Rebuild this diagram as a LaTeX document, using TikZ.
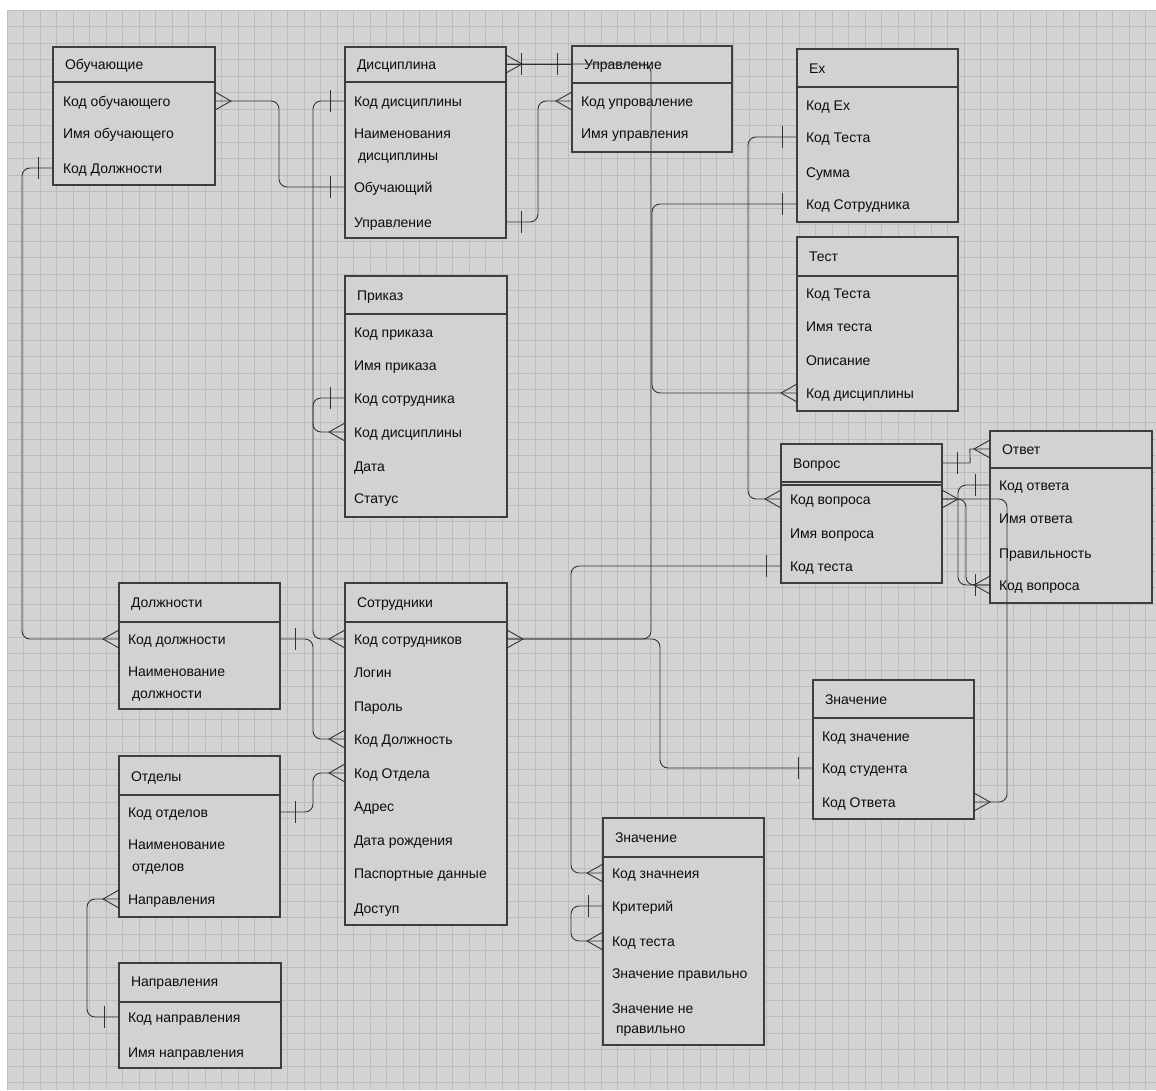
\documentclass[tikz,border=0pt]{standalone}
\usepackage{fontspec}
\setmainfont{Liberation Sans}
\usetikzlibrary{calc}
\definecolor{bgc}{RGB}{211,211,211}
\definecolor{gridc}{RGB}{188,188,188}
\definecolor{boxfill}{RGB}{210,210,210}
\definecolor{edgec}{RGB}{62,62,62}
\definecolor{linec}{RGB}{50,50,50}
\definecolor{txtc}{RGB}{12,12,12}
\tikzset{
  gridline/.style={draw=gridc, line width=0.7pt},
  tblbox/.style={draw=edgec, fill=boxfill, line width=1.1pt, rectangle, inner sep=0pt, outer sep=0pt},
  sepline/.style={draw=edgec, line width=1.1pt},
  rowtxt/.style={anchor=west, inner sep=0pt, outer sep=0pt, text=txtc, font=\fontsize{14}{16}\selectfont, text height=13pt, text depth=3pt},
  conn/.style={draw=linec, line width=0.9pt, rounded corners=8pt},
  tick/.style={draw=linec, line width=0.9pt},
  crowR/.pic={\draw[tick] (0,-9) -- (16,0) -- (0,9);},
  crowL/.pic={\draw[tick] (0,-9) -- (-16,0) -- (0,9);},
  barR/.pic={\draw[tick] (15,-11) -- (15,11);},
  barL/.pic={\draw[tick] (-15,-11) -- (-15,11);},
}
% name, x1, y1, x2, y2, separator y
\newcommand\ertable[6]{%
  \node[tblbox, minimum width={#4-#2}, minimum height={#5-#3}] (#1) at ({(#2+#4)/2},{(#3+#5)/2}) {};
  \draw[sepline] (#1.west |- 0,#6) -- (#1.east |- 0,#6);
}
\newcommand\erow[4]{\node[rowtxt] (#1) at (#2,#3) {#4};}
\begin{document}
\begin{tikzpicture}[x=1pt,y=-1pt]
\useasboundingbox (0,0) rectangle (1156,1090);
\fill[white] (0,0) rectangle (1156,1090);
\fill[bgc] (7,10) rectangle (1156,1090);
\foreach \i in {0,...,69} {\draw[gridline] ({7+\i*16.5},10) -- ({7+\i*16.5},1090);}
\foreach \j in {0,...,65} {\draw[gridline] (7,{10+\j*16.5}) -- (1156,{10+\j*16.5});}

% ---------- tables ----------
\ertable{obu}{53}{47}{215}{185}{82}
\erow{obu-t}{65}{64}{Обучающие}
\erow{obu-1}{63}{101}{Код обучающего}
\erow{obu-2}{63}{133}{Имя обучающего}
\erow{obu-3}{63}{168}{Код Должности}

\ertable{disc}{345}{47}{506}{238}{82}
\erow{disc-t}{357}{64}{Дисциплина}
\erow{disc-1}{354}{101}{Код дисциплины}
\erow{disc-2}{354}{133}{Наименования}
\erow{disc-2b}{358}{155}{дисциплины}
\erow{disc-3}{354}{187}{Обучающий}
\erow{disc-4}{354}{222}{Управление}

\ertable{upr}{572}{46}{732}{152}{83}
\erow{upr-t}{584}{64}{Управление}
\erow{upr-1}{581}{101}{Код упроваление}
\erow{upr-2}{581}{133}{Имя управления}

\ertable{ex}{797}{49}{958}{222}{87}
\erow{ex-t}{809}{68}{Ex}
\erow{ex-1}{806}{105}{Код Ex}
\erow{ex-2}{806}{137}{Код Теста}
\erow{ex-3}{806}{172}{Сумма}
\erow{ex-4}{806}{204}{Код Сотрудника}

\ertable{test}{797}{237}{958}{411}{276}
\erow{test-t}{809}{256}{Тест}
\erow{test-1}{806}{293}{Код Теста}
\erow{test-2}{806}{326}{Имя теста}
\erow{test-3}{806}{360}{Описание}
\erow{test-4}{806}{393}{Код дисциплины}

\ertable{prik}{345}{276}{507}{517}{314}
\erow{prik-t}{357}{295}{Приказ}
\erow{prik-1}{354}{332}{Код приказа}
\erow{prik-2}{354}{365}{Имя приказа}
\erow{prik-3}{354}{398}{Код сотрудника}
\erow{prik-4}{354}{432}{Код дисциплины}
\erow{prik-5}{354}{466}{Дата}
\erow{prik-6}{354}{498}{Статус}

\ertable{vopr}{781}{444}{942}{583}{482}
\draw[sepline] (vopr.west |- 0,485) -- (vopr.east |- 0,485);
\erow{vopr-t}{793}{463}{Вопрос}
\erow{vopr-1}{790}{499}{Код вопроса}
\erow{vopr-2}{790}{533}{Имя вопроса}
\erow{vopr-3}{790}{566}{Код теста}

\ertable{otvet}{990}{431}{1152}{603}{468}
\erow{otvet-t}{1002}{449}{Ответ}
\erow{otvet-1}{999}{485}{Код ответа}
\erow{otvet-2}{999}{518}{Имя ответа}
\erow{otvet-3}{999}{553}{Правильность}
\erow{otvet-4}{999}{585}{Код вопроса}

\ertable{dolzh}{119}{583}{280}{709}{622}
\erow{dolzh-t}{131}{602}{Должности}
\erow{dolzh-1}{128}{639}{Код должности}
\erow{dolzh-2}{128}{671}{Наименование}
\erow{dolzh-2b}{132}{693}{должности}

\ertable{sotr}{345}{583}{507}{925}{622}
\erow{sotr-t}{357}{602}{Сотрудники}
\erow{sotr-1}{354}{639}{Код сотрудников}
\erow{sotr-2}{354}{672}{Логин}
\erow{sotr-3}{354}{706}{Пароль}
\erow{sotr-4}{354}{739}{Код Должность}
\erow{sotr-5}{354}{773}{Код Отдела}
\erow{sotr-6}{354}{806}{Адрес}
\erow{sotr-7}{354}{840}{Дата рождения}
\erow{sotr-8}{354}{873}{Паспортные данные}
\erow{sotr-9}{354}{908}{Доступ}

\ertable{otdel}{119}{756}{280}{917}{795}
\erow{otdel-t}{131}{776}{Отделы}
\erow{otdel-1}{128}{812}{Код отделов}
\erow{otdel-2}{128}{844}{Наименование}
\erow{otdel-2b}{132}{866}{отделов}
\erow{otdel-3}{128}{899}{Направления}

\ertable{napr}{119}{963}{281}{1068}{1002}
\erow{napr-t}{131}{981}{Направления}
\erow{napr-1}{128}{1017}{Код направления}
\erow{napr-2}{128}{1052}{Имя направления}

\ertable{znB}{603}{818}{764}{1045}{857}
\erow{znB-t}{615}{837}{Значение}
\erow{znB-1}{612}{873}{Код значнеия}
\erow{znB-2}{612}{906}{Критерий}
\erow{znB-3}{612}{941}{Код теста}
\erow{znB-4}{612}{973}{Значение правильно}
\erow{znB-5}{612}{1008}{Значение не}
\erow{znB-5b}{616}{1028}{правильно}

\ertable{znR}{813}{680}{974}{819}{718}
\erow{znR-t}{825}{699}{Значение}
\erow{znR-1}{822}{736}{Код значение}
\erow{znR-2}{822}{768}{Код студента}
\erow{znR-3}{822}{802}{Код Ответа}

% ---------- connectors ----------
% Обучающие.Код обучающего -> Дисциплина.Обучающий
\draw[conn] (obu.east |- obu-1) -- ++(64,0) |- (disc.west |- disc-3);
\path (obu.east |- obu-1) pic{crowR};
\path (disc.west |- disc-3) pic{barL};
% Обучающие.Код Должности -> Должности.Код должности
\draw[conn] (obu.west |- obu-3) -- ++(-31,0) |- (dolzh.west |- dolzh-1);
\path (obu.west |- obu-3) pic{barL};
\path (dolzh.west |- dolzh-1) pic{crowL};
% Дисциплина.Код дисциплины -> Сотрудники.Код сотрудников
\draw[conn] (disc.west |- disc-1) -- ++(-32,0) |- (sotr.west |- sotr-1);
\path (disc.west |- disc-1) pic{barL};
\path (sotr.west |- sotr-1) pic{crowL};
% Дисциплина.Управление -> Управление.Код упроваление
\draw[conn] (disc.east |- disc-4) -- ++(32,0) |- (upr.west |- upr-1);
\path (disc.east |- disc-4) pic{barR};
\path (upr.west |- upr-1) pic{crowL};
% Дисциплина title -> Управление title
\draw[conn] (disc.east |- disc-t) -- (upr.west |- upr-t);
\path (disc.east |- disc-t) pic{crowR};
\path (disc.east |- disc-t) pic{barR};
\path (upr.west |- upr-t) pic{barL};
% Сотрудники.Код сотрудников -> Дисциплина title
\draw[conn] (sotr.east |- sotr-1) -- ++(144,0) |- (disc.east |- disc-t);
\path (sotr.east |- sotr-1) pic{crowR};
% Сотрудники.Код сотрудников -> Значение.Код студента
\draw[conn] (sotr.east |- sotr-1) -- ++(153,0) |- (znR.west |- znR-2);
\path (znR.west |- znR-2) pic{barL};
% Вопрос.Код теста -> Значение.Код значнеия
\draw[conn] (vopr.west |- vopr-3) -- ++(-210,0) |- (znB.west |- znB-1);
\path (vopr.west |- vopr-3) pic{barL};
\path (znB.west |- znB-1) pic{crowL};
% Ex.Код Теста -> Вопрос.Код вопроса
\draw[conn] (ex.west |- ex-2) -- ++(-49,0) |- (vopr.west |- vopr-1);
\path (ex.west |- ex-2) pic{barL};
\path (vopr.west |- vopr-1) pic{crowL};
% Ex.Код Сотрудника -> Тест.Код дисциплины
\draw[conn] (ex.west |- ex-4) -- ++(-145,0) |- (test.west |- test-4);
\path (ex.west |- ex-4) pic{barL};
\path (test.west |- test-4) pic{crowL};
% Вопрос title -> Ответ title
\draw[conn] (vopr.east |- vopr-t) -- ++(20,0) to[out=0,in=180] ++(16,-14) -- (otvet.west |- otvet-t);
\path (vopr.east |- vopr-t) pic{barR};
\path (otvet.west |- otvet-t) pic{crowL};
% Ответ self loop
\draw[conn] (otvet.west |- otvet-1) -- ++(-32,0) |- (otvet.west |- otvet-4);
\path (otvet.west |- otvet-1) pic{barL};
\path (otvet.west |- otvet-4) pic{crowL};
% Вопрос.Код вопроса -> Ответ.Код вопроса
\draw[conn] (vopr.east |- vopr-1) -- ++(24,0) |- (otvet.west |- otvet-4);
\path (vopr.east |- vopr-1) pic{crowR};
\path (otvet.west |- otvet-4) pic{barL};
% Вопрос.Код вопроса -> Значение.Код Ответа
\draw[conn] (vopr.east |- vopr-1) -- ++(65,0) |- (znR.east |- znR-3);
\path (znR.east |- znR-3) pic{crowR};
% Должности.Код должности -> Сотрудники.Код Должность
\draw[conn] (dolzh.east |- dolzh-1) -- ++(33,0) |- (sotr.west |- sotr-4);
\path (dolzh.east |- dolzh-1) pic{barR};
\path (sotr.west |- sotr-4) pic{crowL};
% Отделы.Код отделов -> Сотрудники.Код Отдела
\draw[conn] (otdel.east |- otdel-1) -- ++(33,0) |- (sotr.west |- sotr-5);
\path (otdel.east |- otdel-1) pic{barR};
\path (sotr.west |- sotr-5) pic{crowL};
% Отделы.Направления -> Направления.Код направления
\draw[conn] (otdel.west |- otdel-3) -- ++(-32,0) |- (napr.west |- napr-1);
\path (otdel.west |- otdel-3) pic{crowL};
\path (napr.west |- napr-1) pic{barL};
% Значение self loop
\draw[conn] (znB.west |- znB-2) -- ++(-32,0) |- (znB.west |- znB-3);
\path (znB.west |- znB-2) pic{barL};
\path (znB.west |- znB-3) pic{crowL};
% Приказ self loop
\draw[conn] (prik.west |- prik-3) -- ++(-32,0) |- (prik.west |- prik-4);
\path (prik.west |- prik-3) pic{barL};
\path (prik.west |- prik-4) pic{crowL};
\end{tikzpicture}
\end{document}
